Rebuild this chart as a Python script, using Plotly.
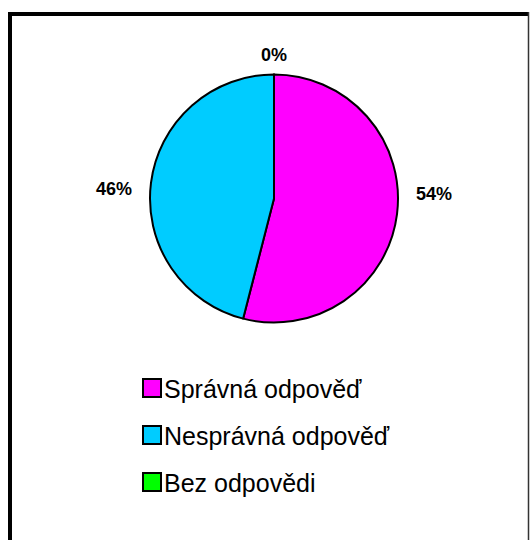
import math
import plotly.graph_objects as go

# Survey answer shares (percent)
categories = ["Správná odpověď", "Nesprávná odpověď", "Bez odpovědi"]
shares = [54, 46, 0]
colors = ["#FF00FF", "#00CCFF", "#00FF00"]

W, H = 530, 540
FONT = "Arial, Liberation Sans, sans-serif"

# pie geometry in pixels
cx, cy, r = 274, 198.5, 124


def px(x):
    return x / W


def py(y):
    return 1 - y / H


fig = go.Figure(
    go.Pie(
        labels=categories,
        values=shares,
        sort=False,
        direction="clockwise",
        rotation=0,
        marker=dict(colors=colors, line=dict(color="black", width=2)),
        textinfo="none",
        hoverinfo="label+percent",
        domain=dict(x=[px(cx - r), px(cx + r)], y=[py(cy + r), py(cy - r)]),
        showlegend=False,
    )
)

annotations = []
shapes = []

# percentage labels outside the pie, placed around each slice's mid-angle
total = sum(shares)
cum = 0
for v in shares:
    mid = math.radians((cum + v / 2) / total * 360)
    cum += v
    s, c = math.sin(mid), math.cos(mid)
    annotations.append(dict(
        x=px(cx + 161 * s), y=py(cy - 143.5 * c * abs(c) - 7 * s * s),
        xref="paper", yref="paper", xanchor="center", yanchor="middle",
        text=f"<b>{round(v / total * 100)}%</b>", showarrow=False,
        font=dict(family=FONT, size=18, color="black"),
    ))

# legend: swatch + label per category
for i, (name, col) in enumerate(zip(categories, colors)):
    yc = 388 + 47 * i
    shapes.append(dict(
        type="rect", xref="paper", yref="paper",
        x0=px(143), x1=px(161), y0=py(yc + 9), y1=py(yc - 9),
        fillcolor=col, line=dict(color="black", width=2),
    ))
    annotations.append(dict(
        x=px(162), y=py(yc + 1), xref="paper", yref="paper",
        xanchor="left", yanchor="middle", text=name, showarrow=False,
        font=dict(family=FONT, size=25, color="black"),
    ))

# chart frame
shapes += [
    dict(type="line", xref="paper", yref="paper", x0=px(10), x1=px(10),
         y0=py(12), y1=py(560), line=dict(color="black", width=4)),
    dict(type="line", xref="paper", yref="paper", x0=px(8), x1=px(529),
         y0=py(14), y1=py(14), line=dict(color="black", width=4)),
    dict(type="line", xref="paper", yref="paper", x0=px(528.5), x1=px(528.5),
         y0=py(12), y1=py(560), line=dict(color="#333333", width=1.5)),
]

fig.update_layout(
    width=W, height=H,
    margin=dict(l=0, r=0, t=0, b=0),
    paper_bgcolor="white", plot_bgcolor="white",
    annotations=annotations, shapes=shapes,
)

fig.write_html("out.html")
